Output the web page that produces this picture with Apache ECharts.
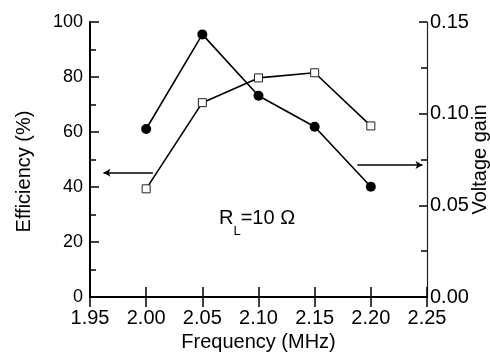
<!DOCTYPE html>
<html>
<head>
<meta charset="utf-8">
<script src="https://cdn.jsdelivr.net/npm/echarts@6/dist/echarts.min.js"></script>
<style>
  html, body { margin: 0; padding: 0; background: #fff; }
  #chart { width: 490px; height: 352px; }
</style>
</head>
<body>
<div id="chart"></div>
<script>
// frequency points (MHz)
const freq = [2.00, 2.05, 2.10, 2.15, 2.20]
// efficiency (%) - filled circles, left axis
const efficiency = [61.1, 95.5, 73.2, 61.9, 40.1]
// voltage gain - open squares, right axis
const voltageGain = [0.059, 0.106, 0.1195, 0.1223, 0.0933]

const xTicks = [1.95, 2.25, 0.05]   // min, max, step
const effTicks = [0, 100, 20]
const gainTicks = [0, 0.15, 0.05]

// arrows pointing to the matching axis
const leftArrow = [[2.006, 45.2], [1.962, 45.2]]
const rightArrow = [[2.188, 0.072], [2.246, 0.072]]

const font = 'Liberation Sans'

function draw() {
    const chart = echarts.init(document.getElementById('chart'))
    chart.setOption(getOptions())
}

function pairs(xs, ys) {
    return xs.map((x, i) => [x, ys[i]])
}

function getOptions() {
    const axisLine = { show: true, lineStyle: { color: '#000', width: 2 } }
    const label = { color: '#000', fontFamily: font, fontSize: 19 }

    return {
        animation: false,
        backgroundColor: '#fff',
        grid: { left: 90, right: 63, top: 22, bottom: 55, outerBoundsMode: 'none', containLabel: false },
        xAxis: [
            {
                type: 'value',
                position: 'bottom',
                min: xTicks[0], max: xTicks[1], interval: xTicks[2],
                axisLine: axisLine,
                axisTick: { inside: true, length: 10, lineStyle: { color: '#000', width: 1.5 } },
                axisLabel: Object.assign({ margin: 11, formatter: v => v.toFixed(2) }, label, { fontSize: 20 }),
                splitLine: { show: false },
                name: 'Frequency (MHz)',
                nameLocation: 'middle',
                nameGap: 31,
                nameTextStyle: { color: '#000', fontFamily: font, fontSize: 20 },
            },
            {
                type: 'value',
                position: 'top',
                min: xTicks[0], max: xTicks[1], interval: xTicks[2],
                axisLine: axisLine,
                axisTick: { inside: true, length: 10, lineStyle: { color: '#000', width: 1.5 } },
                axisLabel: { show: false },
                splitLine: { show: false },
            },
        ],
        yAxis: [
            {
                type: 'value',
                position: 'left',
                min: effTicks[0], max: effTicks[1], interval: effTicks[2],
                axisLine: axisLine,
                axisTick: { inside: true, length: 9, lineStyle: { color: '#000', width: 1.5 } },
                minorTick: { show: true, splitNumber: 2, length: 6, lineStyle: { color: '#000', width: 1.5 } },
                axisLabel: Object.assign({ margin: 7 }, label, { fontSize: 18 }),
                splitLine: { show: false },
                name: 'Efficiency (%)',
                nameLocation: 'middle',
                nameRotate: 90,
                nameGap: 56,
                nameMoveOverlap: false,
                nameTextStyle: { color: '#000', fontFamily: font, fontSize: 20, padding: [0, 24, 0, 0] },
            },
            {
                type: 'value',
                position: 'right',
                min: gainTicks[0], max: gainTicks[1], interval: gainTicks[2],
                axisLine: { show: true, lineStyle: { color: '#222', width: 1.2 } },
                axisTick: { inside: true, length: 8, lineStyle: { color: '#000', width: 1.5 } },
                minorTick: { show: true, splitNumber: 2, length: 6, lineStyle: { color: '#000', width: 1.5 } },
                axisLabel: Object.assign({ margin: 3, formatter: v => v.toFixed(2) }, label, { fontSize: 20 }),
                splitLine: { show: false },
                name: 'Voltage gain',
                nameLocation: 'middle',
                nameRotate: 90,
                nameGap: 43,
                nameMoveOverlap: false,
                nameTextStyle: { color: '#000', fontFamily: font, fontSize: 20 },
            },
        ],
        series: [
            {
                name: 'Efficiency',
                type: 'line',
                yAxisIndex: 0,
                data: pairs(freq, efficiency),
                symbol: 'circle',
                symbolSize: 10,
                itemStyle: { color: '#000' },
                lineStyle: { color: '#000', width: 1.6 },
                markLine: {
                    silent: true,
                    symbol: ['none', 'arrow'],
                    symbolSize: [6, 7],
                    label: { show: false },
                    lineStyle: { color: '#000', width: 1.6, type: 'solid' },
                    data: [[{ coord: leftArrow[0] }, { coord: leftArrow[1] }]],
                },
            },
            {
                name: 'Voltage gain',
                type: 'line',
                yAxisIndex: 1,
                data: pairs(freq, voltageGain),
                symbol: 'rect',
                symbolSize: 8,
                itemStyle: { color: '#fff', borderColor: '#222', borderWidth: 1 },
                lineStyle: { color: '#000', width: 1.6 },
                markLine: {
                    silent: true,
                    symbol: ['none', 'arrow'],
                    symbolSize: [6, 7],
                    label: { show: false },
                    lineStyle: { color: '#000', width: 1.6, type: 'solid' },
                    data: [[{ coord: rightArrow[0] }, { coord: rightArrow[1] }]],
                },
            },
        ],
        graphic: [
            {
                type: 'text',
                left: 219,
                top: 208,
                style: {
                    text: '{a|R}{b|L}{a|=10 Ω}',
                    fill: '#000',
                    rich: {
                        a: { fontFamily: font, fontSize: 20, lineHeight: 30, verticalAlign: 'top', fill: '#000' },
                        b: { fontFamily: font, fontSize: 13, lineHeight: 30, verticalAlign: 'bottom', fill: '#000' },
                    },
                },
            },
        ],
    }
}

draw()
</script>
</body>
</html>
